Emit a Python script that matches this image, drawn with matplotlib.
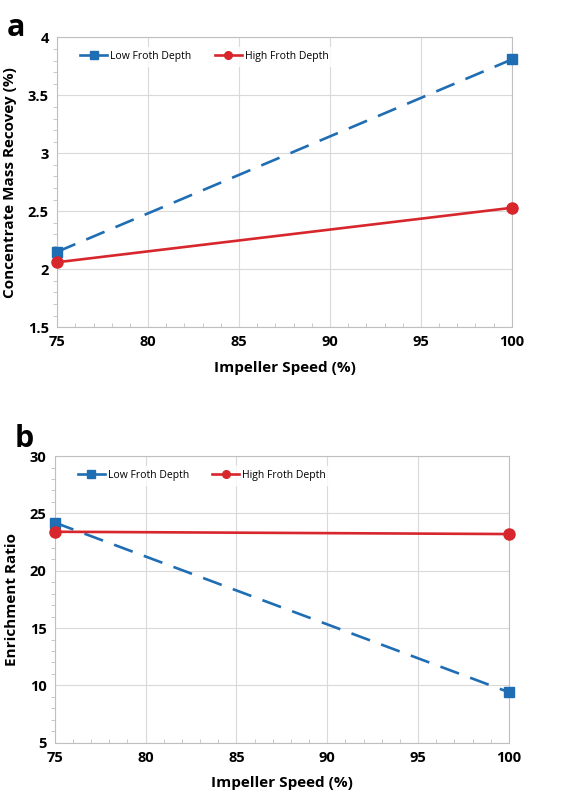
import matplotlib
matplotlib.use('Agg')
import matplotlib.pyplot as plt
from matplotlib.ticker import MultipleLocator, FuncFormatter

plt.rcParams['font.family'] = ['Open Sans', 'DejaVu Sans']

# data
speed = [75, 100]
recovery_low = [2.15, 3.81]
recovery_high = [2.06, 2.53]
enrich_low = [24.2, 9.4]
enrich_high = [23.4, 23.2]

blue = '#1f6db3'
red = '#d7262c'
grid_c = '#d9d9d9'

fig = plt.figure(figsize=(5.83, 7.96), dpi=100)
ax1 = fig.add_axes([0.098, 0.589, 0.780, 0.364])
ax2 = fig.add_axes([0.094, 0.067, 0.779, 0.360])


def style(ax, ylim, ymaj, ymin, ylabel):
    ax.set_xlim(75, 100)
    ax.set_ylim(*ylim)
    ax.xaxis.set_major_locator(MultipleLocator(5))
    ax.xaxis.set_minor_locator(MultipleLocator(1))
    ax.yaxis.set_major_locator(MultipleLocator(ymaj))
    ax.yaxis.set_minor_locator(MultipleLocator(ymin))
    ax.yaxis.set_major_formatter(FuncFormatter(lambda v, p: f'{v:g}'))
    ax.grid(True, which='major', color=grid_c, lw=0.8)
    ax.set_axisbelow(True)
    for s in ax.spines.values():
        s.set_color('#bfbfbf')
        s.set_linewidth(0.8)
    ax.tick_params(which='major', length=0, labelsize=10.5, pad=6)
    ax.tick_params(axis='x', which='minor', direction='in', length=3, color='#bfbfbf')
    ax.tick_params(axis='y', which='minor', direction='out', length=3, color='#bfbfbf')
    for lbl in ax.get_xticklabels() + ax.get_yticklabels():
        lbl.set_fontweight('bold')
    ax.set_xlabel('Impeller Speed (%)', fontsize=11, fontweight='bold', labelpad=8)
    ax.set_ylabel(ylabel, fontsize=11, fontweight='bold', labelpad=8)


ax1.plot(speed, recovery_low, color=blue, ls=(0, (7.5, 4.5)), lw=1.9, marker='s', ms=7,
         label='Low Froth Depth', clip_on=False, zorder=3)
ax1.plot(speed, recovery_high, color=red, lw=1.9, marker='o', ms=8,
         label='High Froth Depth', clip_on=False, zorder=3)
style(ax1, (1.5, 4), 0.5, 0.1, 'Concentrate Mass Recovey (%)')

ax2.plot(speed, enrich_low, color=blue, ls=(0, (7.5, 4.5)), lw=1.9, marker='s', ms=7,
         label='Low Froth Depth', clip_on=False, zorder=3)
ax2.plot(speed, enrich_high, color=red, lw=1.9, marker='o', ms=8,
         label='High Froth Depth', clip_on=False, zorder=3)
style(ax2, (5, 30), 5, 1, 'Enrichment Ratio')

for ax in (ax1, ax2):
    leg = ax.legend(loc='upper left', ncol=2, frameon=True, fontsize=7.5,
                    bbox_to_anchor=(0.03, 0.985), handlelength=2.6,
                    columnspacing=2.2, handletextpad=0.3, borderpad=0.4)
    leg.get_frame().set_facecolor('white')
    leg.get_frame().set_edgecolor('white')
    for h in leg.get_lines():
        h.set_linestyle('-')
        h.set_markersize(5.5)

fig.text(0.012, 0.965, 'a', fontsize=22, fontweight='bold', va='center')
fig.text(0.025, 0.448, 'b', fontsize=22, fontweight='bold', va='center')

fig.savefig('out.png', dpi=100)
